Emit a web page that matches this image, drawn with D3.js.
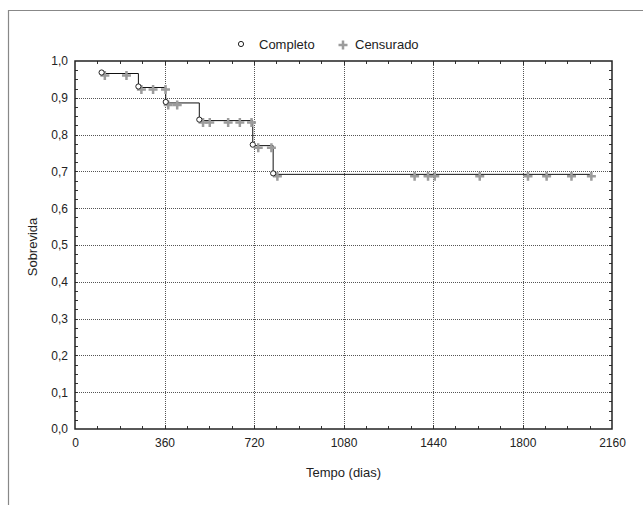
<!DOCTYPE html>
<html>
<head>
<meta charset="utf-8">
<script src="https://cdn.jsdelivr.net/npm/d3@7"></script>
<style>
    body { margin: 0; background: #fff; }
    svg { display: block; font-family: "Liberation Sans", Arial, sans-serif; }
</style>
</head>
<body>
<div id="chart"></div>
<script>
// survival data
const eventTimes = [107, 255, 365, 500, 715, 797];
const eventSurv = [0.966, 0.928, 0.886, 0.838, 0.770, 0.692];

const censorTimes = [114, 201, 261, 308, 358, 369, 405, 509, 536, 610, 657, 704, 731, 784, 808,
    1360, 1414, 1441, 1622, 1816, 1891, 1991, 2071];
const censorSurv = [0.966, 0.966, 0.928, 0.928, 0.928, 0.886, 0.886, 0.838, 0.838, 0.838, 0.838, 0.838,
    0.770, 0.770, 0.692, 0.692, 0.692, 0.692, 0.692, 0.692, 0.692, 0.692, 0.692];

const xTicks = [0, 360, 720, 1080, 1440, 1800, 2160];
const yTicks = [0, 0.1, 0.2, 0.3, 0.4, 0.5, 0.6, 0.7, 0.8, 0.9, 1.0];

const width = 643, height = 505;
const plotLeft = 75, plotRight = 612, plotTop = 61, plotBottom = 429;

const svg = d3.select('#chart').append('svg')
    .attr('width', width)
    .attr('height', height);

// outer frame (runs off the right and bottom of the picture)
svg.append('path')
    .attr('d', `M8.5,${height} V10.5 H${width}`)
    .attr('fill', 'none')
    .attr('stroke', '#888')
    .attr('stroke-width', 1.2);

const x = d3.scaleLinear().domain([0, 2160]).range([plotLeft, plotRight]);
const y = d3.scaleLinear().domain([0, 1]).range([plotBottom, plotTop]);

// grid
svg.append('g').selectAll('line')
    .data(yTicks.slice(1, -1))
    .enter().append('line')
    .attr('x1', plotLeft).attr('x2', plotRight)
    .attr('y1', d => Math.round(y(d)) + 0.5)
    .attr('y2', d => Math.round(y(d)) + 0.5)
    .attr('stroke', '#555')
    .attr('stroke-dasharray', '1,1');

svg.append('g').selectAll('line')
    .data(xTicks.slice(1, -1))
    .enter().append('line')
    .attr('y1', plotTop).attr('y2', plotBottom)
    .attr('x1', d => Math.round(x(d)) + 0.5)
    .attr('x2', d => Math.round(x(d)) + 0.5)
    .attr('stroke', '#555')
    .attr('stroke-dasharray', '1,1');

// minor ticks, pointing inward on all four sides
const xMinor = d3.range(90, 2160, 90);
const yMinor = d3.range(0.025, 1, 0.025);

svg.append('g').selectAll('line')
    .data(xMinor)
    .enter().append('line')
    .attr('x1', d => Math.round(x(d)) + 0.5).attr('x2', d => Math.round(x(d)) + 0.5)
    .attr('y1', plotBottom).attr('y2', d => plotBottom - (d % 360 === 0 ? 4 : 3))
    .attr('stroke', '#333');

svg.append('g').selectAll('line')
    .data(xMinor)
    .enter().append('line')
    .attr('x1', d => Math.round(x(d)) + 0.5).attr('x2', d => Math.round(x(d)) + 0.5)
    .attr('y1', plotTop).attr('y2', d => plotTop + (d % 360 === 0 ? 4 : 3))
    .attr('stroke', '#333');

svg.append('g').selectAll('line')
    .data(yMinor)
    .enter().append('line')
    .attr('y1', d => Math.round(y(d)) + 0.5).attr('y2', d => Math.round(y(d)) + 0.5)
    .attr('x1', plotLeft).attr('x2', plotLeft + 3)
    .attr('stroke', '#333');

svg.append('g').selectAll('line')
    .data(yMinor)
    .enter().append('line')
    .attr('y1', d => Math.round(y(d)) + 0.5).attr('y2', d => Math.round(y(d)) + 0.5)
    .attr('x1', plotRight).attr('x2', plotRight - 3)
    .attr('stroke', '#333');

// axes with labels only (ticks drawn above)
const xAxis = svg.append('g')
    .attr('transform', `translate(0,${plotBottom})`)
    .call(d3.axisBottom(x).tickValues(xTicks).tickSize(0).tickPadding(9).tickFormat(d3.format('d')));
xAxis.select('.domain').remove();
xAxis.selectAll('text').attr('font-size', 12).attr('fill', '#222');
xAxis.attr('font-family', null);

const yAxis = svg.append('g')
    .attr('transform', `translate(${plotLeft},0)`)
    .call(d3.axisLeft(y).tickValues(yTicks).tickSize(0).tickPadding(7)
        .tickFormat(d => d3.format('.1f')(d).replace('.', ',')));
yAxis.select('.domain').remove();
yAxis.selectAll('text').attr('font-size', 12).attr('fill', '#222');
yAxis.attr('font-family', null);

// plot frame
svg.append('rect')
    .attr('x', plotLeft).attr('y', plotTop)
    .attr('width', plotRight - plotLeft).attr('height', plotBottom - plotTop)
    .attr('fill', 'none')
    .attr('stroke', '#222')
    .attr('stroke-width', 1.5);

// Kaplan-Meier step line
const stepPoints = eventTimes.map((t, i) => [t, eventSurv[i]]);
stepPoints.push([censorTimes[censorTimes.length - 1], eventSurv[eventSurv.length - 1]]);

const line = d3.line()
    .x(d => x(d[0]))
    .y(d => y(d[1]))
    .curve(d3.curveStepAfter);

svg.append('path')
    .datum(stepPoints)
    .attr('d', line)
    .attr('fill', 'none')
    .attr('stroke', '#111')
    .attr('stroke-width', 1);

// censored marks
const plus = 'M-4.5,0H4.5M0,-4.5V4.5';
svg.append('g').selectAll('path')
    .data(censorTimes)
    .enter().append('path')
    .attr('transform', (d, i) => `translate(${x(d) + 1.5},${y(censorSurv[i]) + 2})`)
    .attr('d', plus)
    .attr('stroke', '#9c9c9c')
    .attr('stroke-width', 2.5)
    .attr('fill', 'none');

// complete (event) marks
svg.append('g').selectAll('circle')
    .data(eventTimes)
    .enter().append('circle')
    .attr('cx', d => x(d))
    .attr('cy', (d, i) => y(eventSurv[i]) - 1)
    .attr('r', 2.6)
    .attr('fill', '#fff')
    .attr('stroke', '#222')
    .attr('stroke-width', 1);

// legend
const legend = svg.append('g').attr('font-size', 13).attr('fill', '#222');
legend.append('circle')
    .attr('cx', 241).attr('cy', 44).attr('r', 2.6)
    .attr('fill', '#fff').attr('stroke', '#222');
legend.append('text').attr('x', 259).attr('y', 48.5).text('Completo');
legend.append('path')
    .attr('transform', 'translate(343,45)')
    .attr('d', plus)
    .attr('stroke', '#9c9c9c').attr('stroke-width', 2.5);
legend.append('text').attr('x', 355).attr('y', 48.5).text('Censurado');

// axis titles
svg.append('text')
    .attr('x', (plotLeft + plotRight) / 2).attr('y', 477)
    .attr('text-anchor', 'middle')
    .attr('font-size', 13).attr('fill', '#222')
    .text('Tempo (dias)');

svg.append('text')
    .attr('transform', 'translate(37,247) rotate(-90)')
    .attr('text-anchor', 'middle')
    .attr('font-size', 13).attr('fill', '#222')
    .text('Sobrevida');
</script>
</body>
</html>
